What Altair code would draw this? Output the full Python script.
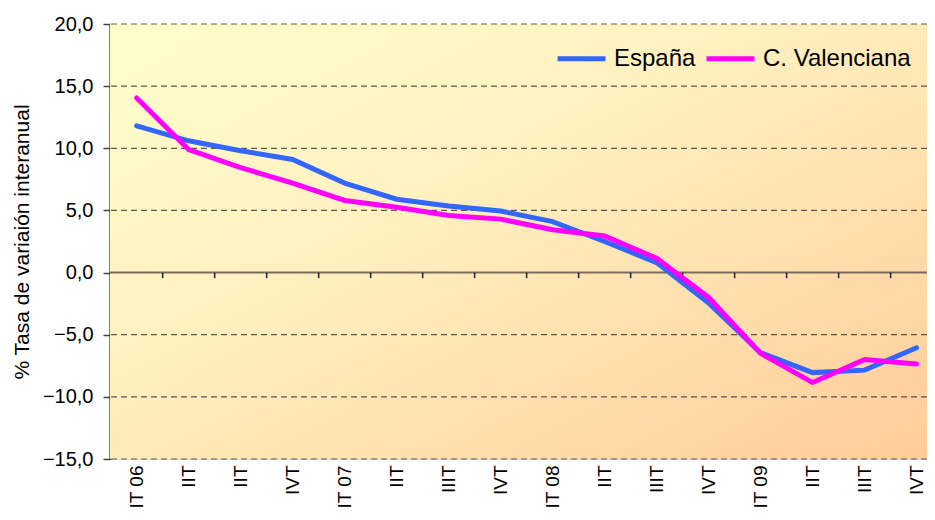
import altair as alt
import pandas as pd

labels = ["IT 06", "IIT", "IIT", "IVT", "IT 07", "IIT", "IIIT", "IVT",
          "IT 08", "IIT", "IIIT", "IVT", "IT 09", "IIT", "IIIT", "IVT"]
espana = [11.8, 10.6, 9.8, 9.1, 7.2, 5.9, 5.35, 4.95, 4.1, 2.5, 0.8, -2.45,
          -6.45, -8.05, -7.85, -6.05]
valenciana = [14.05, 9.9, 8.45, 7.2, 5.8, 5.25, 4.6, 4.3, 3.45, 2.95, 1.15, -2.0,
              -6.5, -8.85, -7.0, -7.35]
series_names = ["España", "C. Valenciana"]
series_colors = ["#3366FF", "#FF00FF"]
grid_vals = [-15, -10, -5, 5, 10, 15, 20]
y_ticks = [-15, -10, -5, 0, 5, 10, 15, 20]

rows = []
for i, lab in enumerate(labels):
    rows.append({"idx": i, "serie": series_names[0], "v": espana[i]})
    rows.append({"idx": i, "serie": series_names[1], "v": valenciana[i]})
df = pd.DataFrame(rows)

FONT = "Liberation Sans"
xdom = [-0.513, 15.2]
ydom = [-15, 20]
label_arr = "[" + ",".join("'" + l + "'" for l in labels) + "]"

xscale = alt.Scale(domain=xdom, nice=False, zero=False)
yscale = alt.Scale(domain=ydom, nice=False, zero=False)

bg = alt.Chart(alt.Data(values=[{}])).mark_rect(
    fill=alt.LinearGradient(
        gradient="linear",
        stops=[alt.GradientStop(color="#FFFFCC", offset=0),
               alt.GradientStop(color="#FFF0C0", offset=0.4),
               alt.GradientStop(color="#FFCC99", offset=1)],
        x1=0, y1=0, x2=1, y2=1),
    stroke=None,
).encode(x=alt.value(0), x2=alt.value("width"), y=alt.value(0), y2=alt.value("height"))

grid = alt.Chart(pd.DataFrame({"g": grid_vals})).mark_rule(
    color="#333333", strokeDash=[6, 4], strokeWidth=1.2, opacity=0.8
).encode(y=alt.Y("g:Q", scale=yscale))

zero = alt.Chart(pd.DataFrame({"z": [0]})).mark_rule(
    color="#7a6c5a", strokeWidth=2
).encode(y=alt.Y("z:Q", scale=yscale))

tickdf = pd.DataFrame({"t": [i + 0.5 for i in range(15)], "y0": [0] * 15, "y1": [-0.45] * 15})
xt = alt.Chart(tickdf).mark_rule(color="#222222", strokeWidth=1.5).encode(
    x=alt.X("t:Q", scale=xscale),
    y=alt.Y("y0:Q", scale=yscale),
    y2="y1:Q",
)

lines = alt.Chart(df).mark_line(strokeWidth=5, strokeJoin="miter", strokeCap="round").encode(
    x=alt.X("idx:Q", scale=xscale,
            axis=alt.Axis(values=list(range(16)), labelExpr=label_arr + "[datum.value]",
                          labelAngle=270, labelFontSize=19, labelFont=FONT, labelColor="#000",
                          ticks=False, domain=False, grid=False, labelPadding=6,
                          labelOverlap=False, title=None)),
    y=alt.Y("v:Q", scale=yscale,
            axis=alt.Axis(values=y_ticks,
                          labelExpr="replace(format(datum.value, '.1f'), '.', ',')",
                          labelFontSize=20, labelFont=FONT, labelColor="#000",
                          tickSize=7, tickColor="#444", tickWidth=1.5,
                          domainColor="#000", domainWidth=2, grid=False,
                          labelPadding=10,
                          title="% Tasa de variaión interanual",
                          titleFontSize=21, titleFont=FONT, titleFontWeight="normal",
                          titleColor="#000", titlePadding=10)),
    color=alt.Color("serie:N",
                    scale=alt.Scale(domain=series_names, range=series_colors),
                    sort=series_names,
                    legend=alt.Legend(orient="none", direction="horizontal",
                                      legendX=445, legendY=8, title=None,
                                      symbolType="stroke", symbolStrokeWidth=5,
                                      symbolSize=2300, labelFontSize=24, labelFont=FONT,
                                      labelColor="#000", columnPadding=0, labelOffset=6)),
    order="idx:Q",
)

chart = alt.layer(bg, grid, zero, xt, lines).properties(
    width=817, height=435,
    autosize=alt.AutoSizeParams(type="none"),
    padding={"left": 102, "top": 16, "right": 0, "bottom": 53},
).configure_view(stroke=None).configure(background="white")

chart.save("out.html", embed_options={"renderer": "svg", "actions": False})
